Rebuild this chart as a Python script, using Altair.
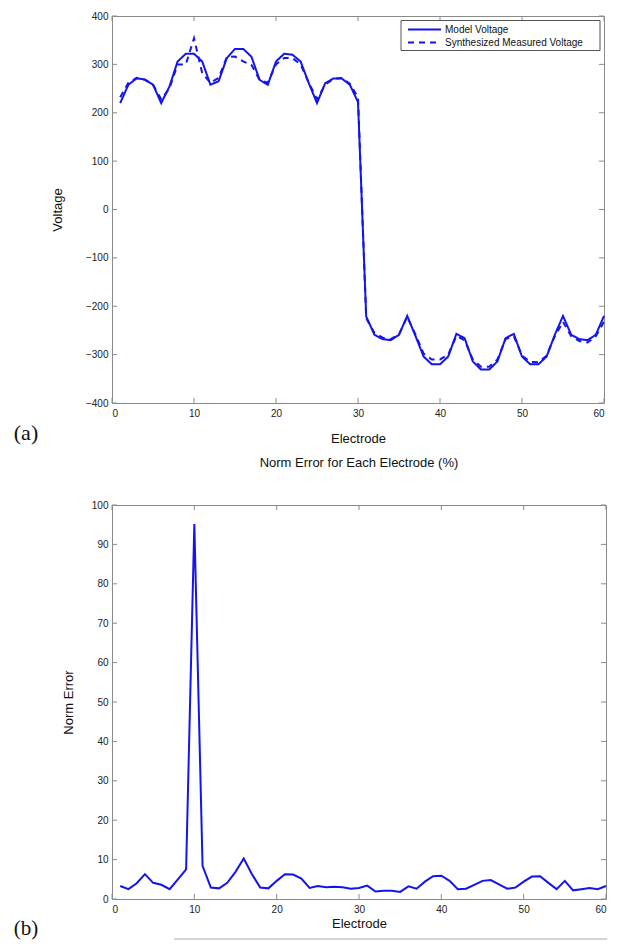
import altair as alt
import pandas as pd

electrode = list(range(1, 61))
series_names = ["Model Voltage", "Synthesized Measured Voltage"]

model_voltage = [220, 258, 271, 269, 258, 220, 254, 306, 322, 322,
                 306, 258, 265, 313, 332, 332, 316, 268, 258, 306,
                 322, 320, 306, 261, 220, 261, 271, 271, 258, 222,
                 -221, -259, -268, -270, -259, -220, -261, -304, -320, -320,
                 -304, -257, -266, -314, -331, -331, -314, -266, -257, -304,
                 -320, -320, -304, -259, -220, -259, -268, -270, -259, -220]

measured_voltage = [232, 262, 272, 268, 258, 228, 250, 300, 300, 354,
                    282, 262, 272, 315, 316, 306, 299, 268, 262, 300,
                    313, 313, 300, 262, 228, 258, 270, 272, 260, 232,
                    -225, -255, -265, -268, -258, -222, -258, -298, -310, -310,
                    -300, -262, -270, -310, -325, -325, -310, -268, -262, -302,
                    -315, -316, -302, -262, -232, -262, -272, -275, -262, -232]

norm_error = [3.3, 2.5, 4.0, 6.3, 4.1, 3.6, 2.5, 5.0, 7.5, 95.2,
              8.4, 2.9, 2.7, 4.1, 6.9, 10.3, 6.3, 2.9, 2.7, 4.6,
              6.3, 6.2, 5.2, 2.8, 3.3, 3.0, 3.1, 3.0, 2.6, 2.8,
              3.4, 1.9, 2.1, 2.1, 1.8, 3.2, 2.6, 4.4, 5.8, 5.9,
              4.6, 2.5, 2.6, 3.6, 4.6, 4.8, 3.7, 2.6, 2.9, 4.4,
              5.7, 5.8, 4.1, 2.5, 4.6, 2.2, 2.5, 2.8, 2.5, 3.3]

x_ticks = [0, 10, 20, 30, 40, 50, 60]
volt_ticks = [-400, -300, -200, -100, 0, 100, 200, 300, 400]
err_ticks = [0, 10, 20, 30, 40, 50, 60, 70, 80, 90, 100]

BLUE = "#1414ee"
AX = "#8a8a8a"
FONT = "Liberation Sans"
SERIF = "Liberation Serif"
TL = 5  # inward tick length

W1, H1 = 492, 387
W2, H2 = 494, 394

xs = alt.Scale(domain=[0, 60], nice=False, zero=False)
ys1 = alt.Scale(domain=[-400, 400], nice=False)
ys2 = alt.Scale(domain=[0, 100], nice=False)


def inward_ticks(xfield, xvals, yfield, yvals, W, H):
    dx = pd.DataFrame({xfield: xvals})
    dy = pd.DataFrame({yfield: yvals})
    r = dict(color=AX, strokeWidth=1)
    xe = alt.X(f"{xfield}:Q", axis=None)
    ye = alt.Y(f"{yfield}:Q", axis=None)
    return [
        alt.Chart(dx).mark_rule(**r).encode(x=xe, y=alt.value(H), y2=alt.value(H - TL)),
        alt.Chart(dx).mark_rule(**r).encode(x=xe, y=alt.value(0), y2=alt.value(TL)),
        alt.Chart(dy).mark_rule(**r).encode(y=ye, x=alt.value(0), x2=alt.value(TL)),
        alt.Chart(dy).mark_rule(**r).encode(y=ye, x=alt.value(W - TL), x2=alt.value(W)),
    ]


# ---------- top panel ----------
df_top = pd.DataFrame({
    "Electrode": electrode * 2,
    "Voltage": model_voltage + measured_voltage,
    "Series": [series_names[0]] * 60 + [series_names[1]] * 60,
})

top_lines = alt.Chart(df_top).mark_line(color=BLUE, strokeWidth=2).encode(
    x=alt.X("Electrode:Q", scale=xs,
            axis=alt.Axis(values=x_ticks, orient="bottom", title="Electrode",
                          titleX=W1 / 2, titleY=35, titleBaseline="middle",
                          labelPadding=5)),
    y=alt.Y("Voltage:Q", scale=ys1,
            axis=alt.Axis(values=volt_ticks, orient="left", title="Voltage",
                          titleX=-55, titleY=H1 / 2, titleAngle=270,
                          titleBaseline="middle", titleAlign="center",
                          labelPadding=4, labelOverlap=False)),
    strokeDash=alt.StrokeDash(
        "Series:N",
        scale=alt.Scale(domain=series_names, range=[[1, 0], [6, 5]]),
        legend=None),
    detail="Series:N",
)

lab_a = alt.Chart(pd.DataFrame({"t": ["(a)"]})).mark_text(
    font=SERIF, fontSize=22, align="center", baseline="middle", color="#111"
).encode(text="t:N", x=alt.value(-86), y=alt.value(417))

# legend (drawn inside the plot, top-right)
one = pd.DataFrame({"k": [0]})
leg_box = alt.Chart(one).mark_rect(fill="white", stroke="#555", strokeWidth=1).encode(
    x=alt.value(289), x2=alt.value(488), y=alt.value(4.5), y2=alt.value(34.5))
leg_solid = alt.Chart(one).mark_rule(color=BLUE, strokeWidth=2).encode(
    x=alt.value(296), x2=alt.value(329), y=alt.value(13.5))
leg_dash = alt.Chart(one).mark_rule(color=BLUE, strokeWidth=2, strokeDash=[6, 5]).encode(
    x=alt.value(296), x2=alt.value(329), y=alt.value(26.5))
leg_text1 = alt.Chart(pd.DataFrame({"t": [series_names[0]]})).mark_text(
    font=FONT, fontSize=10, align="left", baseline="middle", color="#111"
).encode(text="t:N", x=alt.value(333), y=alt.value(13.5))
leg_text2 = alt.Chart(pd.DataFrame({"t": [series_names[1]]})).mark_text(
    font=FONT, fontSize=10, align="left", baseline="middle", color="#111"
).encode(text="t:N", x=alt.value(333), y=alt.value(26.5))

top = alt.layer(top_lines, *inward_ticks("Electrode", x_ticks, "Voltage", volt_ticks, W1, H1),
                lab_a, leg_box, leg_solid, leg_dash, leg_text1, leg_text2
                ).resolve_axis(x="independent", y="independent"
                ).properties(width=W1, height=H1)

# ---------- bottom panel ----------
df_bot = pd.DataFrame({"Electrode": electrode, "Norm Error": norm_error})

bot_line = alt.Chart(df_bot).mark_line(color=BLUE, strokeWidth=2).encode(
    x=alt.X("Electrode:Q", scale=xs,
            axis=alt.Axis(values=x_ticks, orient="bottom", title="Electrode",
                          titleX=W2 / 2, titleY=24, titleBaseline="middle",
                          labelPadding=5)),
    y=alt.Y("Norm Error:Q", scale=ys2,
            axis=alt.Axis(values=err_ticks, orient="left", title="Norm Error",
                          titleX=-44, titleY=H2 / 2, titleAngle=270,
                          titleBaseline="middle", titleAlign="center",
                          labelPadding=4, labelOverlap=False)),
)
lab_b = alt.Chart(pd.DataFrame({"t": ["(b)"]})).mark_text(
    font=SERIF, fontSize=21, align="center", baseline="middle", color="#111"
).encode(text="t:N", x=alt.value(-86), y=alt.value(424))
gray_rule = alt.Chart(one).mark_rule(color="#aaaaaa", strokeWidth=1).encode(
    x=alt.value(62), x2=alt.value(495), y=alt.value(434))

bottom = alt.layer(bot_line, *inward_ticks("Electrode", x_ticks, "Norm Error", err_ticks, W2, H2),
                   lab_b, gray_rule).resolve_axis(x="independent", y="independent"
                   ).properties(
    width=W2, height=H2,
    title=alt.Title("Norm Error for Each Electrode (%)", font=FONT, fontSize=13,
                    fontWeight="normal", color="#111", anchor="middle", offset=30))

chart = alt.vconcat(top, bottom, spacing=10).configure_view(
    stroke=AX, strokeWidth=1
).configure_axis(
    labelFont=FONT, labelFontSize=10, labelColor="#222",
    titleFont=FONT, titleFontSize=13, titleFontWeight="normal", titleColor="#111",
    grid=False, domain=False, ticks=False
).properties(padding={"left": 5, "top": 2, "right": 0, "bottom": 0},
             background="white")

chart.save("out.html", embed_options={"renderer": "svg", "actions": False})
